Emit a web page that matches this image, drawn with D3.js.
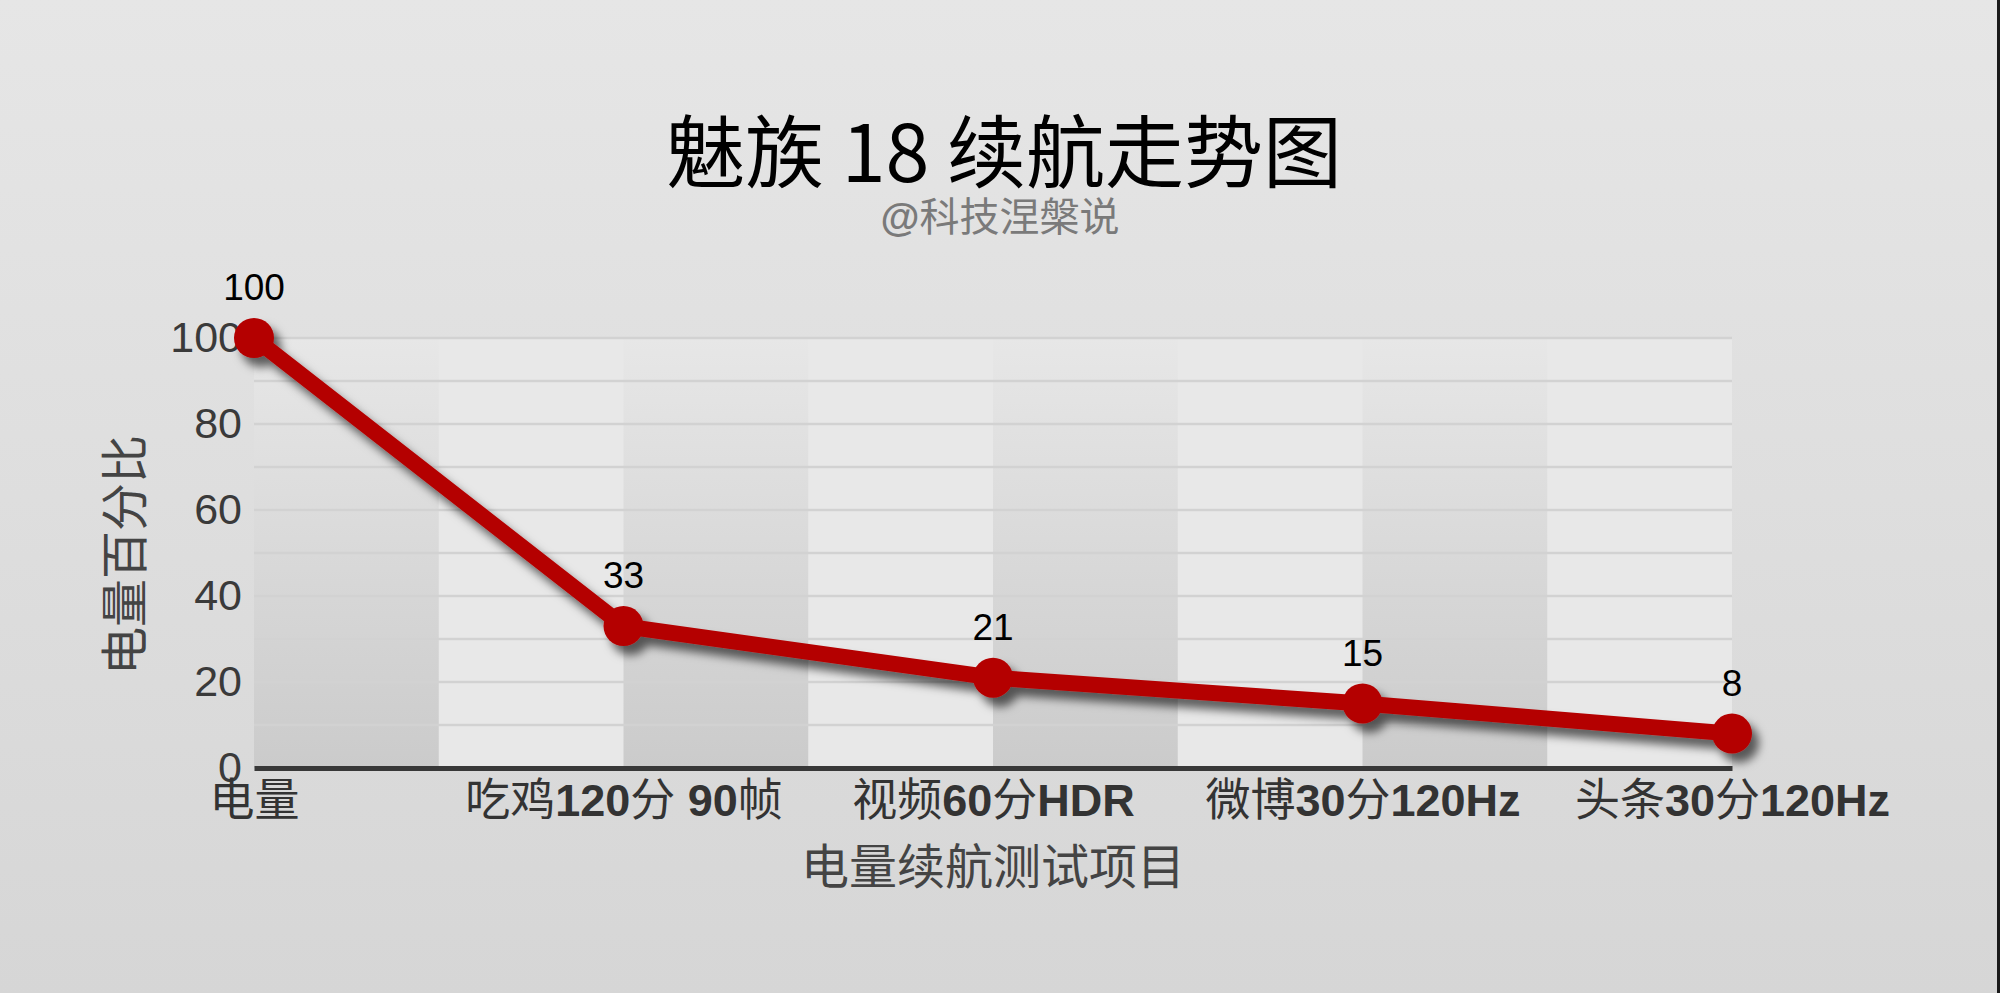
<!DOCTYPE html>
<html>
<head>
<meta charset="utf-8">
<script src="https://cdn.jsdelivr.net/npm/d3@7"></script>
<style>
  html, body { margin: 0; padding: 0; overflow: hidden; background: #e0e0e0; }
  svg { display: block; }
</style>
</head>
<body>
<div id="wrapper"></div>
<script>
// chart data
const categories = ["电量", "吃鸡120分 90帧", "视频60分HDR", "微博30分120Hz", "头条30分120Hz"];
const batteryLeft = [100, 33, 21, 15, 8];
const yTicks = [0, 20, 40, 60, 80, 100];
const gridTicks = [10, 20, 30, 40, 50, 60, 70, 80, 90, 100];

const titleText = "魅族 18 续航走势图";
const subtitleText = "@科技涅槃说";
const xTitle = "电量续航测试项目";
const yTitle = "电量百分比";

const width = 2000, height = 993;
const plot = { left: 254, right: 1732, top: 338, bottom: 768 };

const cjk = "'Noto Sans CJK SC', sans-serif";
const latin = "'Liberation Sans', Arial, 'Noto Sans CJK SC', sans-serif";
const isCjk = s => /[\u4e00-\u9fff]/.test(s);

const svg = d3.select("#wrapper")
  .append("svg")
  .attr("width", width)
  .attr("height", height);

const defs = svg.append("defs");

const bg = defs.append("linearGradient")
  .attr("id", "bg").attr("x1", 0).attr("y1", 0).attr("x2", 0).attr("y2", 1);
bg.append("stop").attr("offset", "0%").attr("stop-color", "#e6e6e6");
bg.append("stop").attr("offset", "100%").attr("stop-color", "#d6d6d6");

const band = defs.append("linearGradient")
  .attr("id", "band").attr("x1", 0).attr("y1", 0).attr("x2", 0).attr("y2", 1);
band.append("stop").attr("offset", "0%").attr("stop-color", "#e7e7e7");
band.append("stop").attr("offset", "100%").attr("stop-color", "#cbcbcb");

const shadow = defs.append("filter")
  .attr("id", "shadow")
  .attr("x", "-10%").attr("y", "-10%").attr("width", "130%").attr("height", "140%");
shadow.append("feDropShadow")
  .attr("dx", 7).attr("dy", 9)
  .attr("stdDeviation", 5)
  .attr("flood-color", "#000")
  .attr("flood-opacity", 0.6);

svg.append("rect")
  .attr("width", width).attr("height", height)
  .attr("fill", "url(#bg)");

// frame on the right edge
svg.append("rect")
  .attr("x", width - 3).attr("y", 0)
  .attr("width", 3).attr("height", height)
  .attr("fill", "#1a1a1a");

const x = d3.scalePoint()
  .domain(categories)
  .range([plot.left, plot.right]);

const y = d3.scaleLinear()
  .domain([0, 100])
  .range([plot.bottom, plot.top]);

const half = x.step() / 2;

// plot background and alternating bands
svg.append("rect")
  .attr("x", plot.left).attr("y", y(100))
  .attr("width", plot.right - plot.left)
  .attr("height", y(0) - y(100))
  .attr("fill", "#e8e8e8");

svg.append("g")
  .selectAll("rect")
  .data(categories.slice(0, -1))
  .join("rect")
  .attr("x", d => x(d))
  .attr("y", y(100))
  .attr("width", half)
  .attr("height", y(0) - y(100))
  .attr("fill", "url(#band)");

// gridlines
svg.append("g")
  .attr("class", "grid")
  .selectAll("line")
  .data(gridTicks)
  .join("line")
  .attr("x1", plot.left).attr("x2", plot.right)
  .attr("y1", d => y(d)).attr("y2", d => y(d))
  .attr("stroke", "#d2d2d2")
  .attr("stroke-width", 2.5);

// y axis
const yAxis = d3.axisLeft(y)
  .tickValues(yTicks)
  .tickSize(0)
  .tickPadding(12);

const gy = svg.append("g")
  .attr("transform", `translate(${plot.left},0)`)
  .call(yAxis);
gy.select(".domain").remove();
gy.selectAll("text")
  .attr("font-family", latin)
  .attr("font-size", 43)
  .attr("fill", "#3a3a3a");

// x axis
const xAxis = d3.axisBottom(x)
  .tickSize(0)
  .tickFormat("");

const gx = svg.append("g")
  .attr("transform", `translate(0,${plot.bottom})`)
  .call(xAxis);
gx.select(".domain")
  .attr("stroke", "#383838")
  .attr("stroke-width", 5);

const xLabels = gx.selectAll(".tick")
  .append("text")
  .attr("y", 48)
  .attr("text-anchor", "middle")
  .attr("font-size", 45)
  .attr("fill", "#333");

xLabels.each(function(d) {
  const parts = d.match(/[\u4e00-\u9fff]+|[^\u4e00-\u9fff]+/g);
  d3.select(this).selectAll("tspan")
    .data(parts)
    .join("tspan")
    .attr("font-family", p => isCjk(p) ? cjk : latin)
    .attr("font-weight", p => isCjk(p) ? "normal" : "bold")
    .style("white-space", "pre")
    .text(p => p);
});

// axis titles
svg.append("text")
  .attr("x", (plot.left + plot.right) / 2)
  .attr("y", 884)
  .attr("text-anchor", "middle")
  .attr("font-family", cjk)
  .attr("font-size", 48)
  .attr("fill", "#444")
  .text(xTitle);

svg.append("text")
  .attr("transform", `translate(121,${(plot.top + plot.bottom) / 2 + 2}) rotate(-90)`)
  .attr("text-anchor", "middle")
  .attr("dominant-baseline", "central")
  .attr("font-family", cjk)
  .attr("font-size", 48)
  .attr("fill", "#444")
  .text(yTitle);

// title and subtitle
svg.append("text")
  .attr("x", 1004)
  .attr("y", 182)
  .attr("text-anchor", "middle")
  .attr("font-family", cjk)
  .attr("font-size", 79)
  .attr("fill", "#000")
  .style("white-space", "pre")
  .text(titleText);

const sub = svg.append("text")
  .attr("x", 1000)
  .attr("y", 231)
  .attr("text-anchor", "middle")
  .attr("font-size", 40)
  .attr("fill", "#7a7a7a");
sub.selectAll("tspan")
  .data(subtitleText.match(/[\u4e00-\u9fff]+|[^\u4e00-\u9fff]+/g))
  .join("tspan")
  .attr("font-family", p => isCjk(p) ? cjk : latin)
  .attr("font-weight", p => isCjk(p) ? "normal" : "bold")
  .text(p => p);

// line series
const series = categories.map((c, i) => ({ name: c, value: batteryLeft[i] }));

const line = d3.line()
  .x(d => x(d.name))
  .y(d => y(d.value));

const marks = svg.append("g")
  .attr("filter", "url(#shadow)");

marks.append("path")
  .datum(series)
  .attr("d", line)
  .attr("fill", "none")
  .attr("stroke", "#b40000")
  .attr("stroke-width", 16)
  .attr("stroke-linejoin", "round");

marks.selectAll("circle")
  .data(series)
  .join("circle")
  .attr("cx", d => x(d.name))
  .attr("cy", d => y(d.value))
  .attr("r", 20)
  .attr("fill", "#b40000");

// value labels
svg.append("g")
  .selectAll("text")
  .data(series)
  .join("text")
  .attr("x", d => x(d.name))
  .attr("y", d => y(d.value) - 38)
  .attr("text-anchor", "middle")
  .attr("font-family", latin)
  .attr("font-size", 37)
  .attr("fill", "#000")
  .text(d => d.value);
</script>
</body>
</html>
